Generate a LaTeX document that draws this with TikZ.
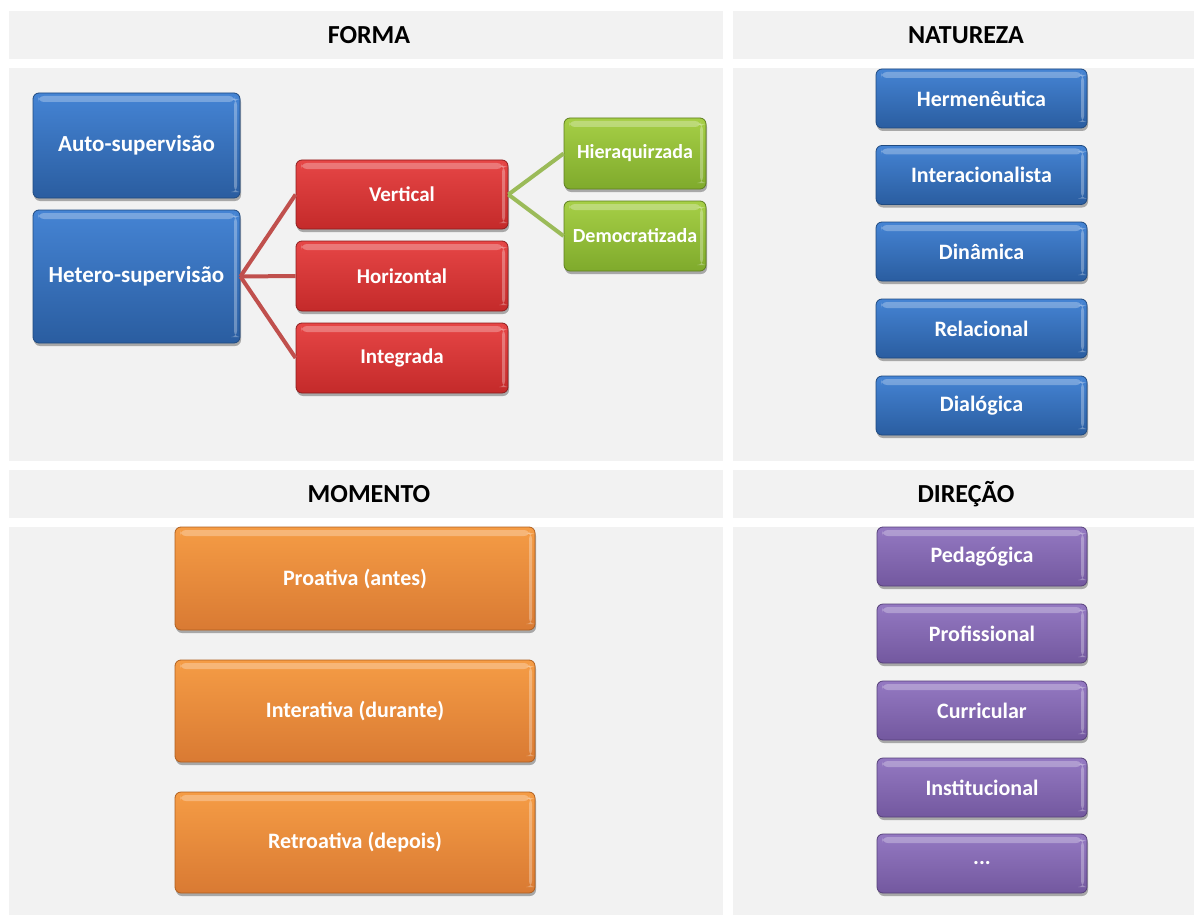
\documentclass[tikz,border=0pt]{standalone}
\usepackage{fontspec}
\setmainfont{Carlito}
\usetikzlibrary{shadows}
\definecolor{panelbg}{HTML}{F2F2F2}
\definecolor{blueT}{HTML}{4584D4}
\definecolor{blueB}{HTML}{2A5DA0}
\definecolor{blueD}{HTML}{1F4A80}
\definecolor{redT}{HTML}{E64646}
\definecolor{redB}{HTML}{C42A2A}
\definecolor{redD}{HTML}{8E1E1E}
\definecolor{greenT}{HTML}{A6CF46}
\definecolor{greenB}{HTML}{7FAA2C}
\definecolor{greenD}{HTML}{5E7E20}
\definecolor{orangeT}{HTML}{F59C45}
\definecolor{orangeB}{HTML}{D97A33}
\definecolor{orangeD}{HTML}{B06020}
\definecolor{purpleT}{HTML}{9479C2}
\definecolor{purpleB}{HTML}{73589F}
\definecolor{purpleD}{HTML}{56407A}
\definecolor{redline}{HTML}{C0504D}
\definecolor{greenline}{HTML}{9BBB59}
\tikzset{
  panel/.style={fill=panelbg, draw=none},
  headtext/.style={font=\bfseries\fontsize{26}{30}\selectfont, text=black},
  glossy/.style={rounded corners=6pt, line width=0.8pt, text=white,
    drop shadow={shadow xshift=1pt, shadow yshift=-3pt, opacity=0.3, fill=black},
    path picture={
      \fill[white, opacity=0.28] ([xshift=5pt,yshift=-3pt]path picture bounding box.north west)
        rectangle ([xshift=-5pt,yshift=-9pt]path picture bounding box.north east);
      \fill[white, opacity=0.3] ([xshift=-6pt,yshift=-6pt]path picture bounding box.north east)
        rectangle ([xshift=-3pt,yshift=6pt]path picture bounding box.south east);
    },
    inner sep=0pt},
  bluebox/.style={glossy, top color=blueT, bottom color=blueB, draw=blueD, font=\bfseries\fontsize{22}{26}\selectfont},
  bigbluebox/.style={bluebox, font=\bfseries\fontsize{23}{26}\selectfont},
  redbox/.style={glossy, top color=redT, bottom color=redB, draw=redD, font=\bfseries\fontsize{21}{24}\selectfont},
  greenbox/.style={glossy, top color=greenT, bottom color=greenB, draw=greenD, font=\bfseries\fontsize{20}{24}\selectfont},
  orangebox/.style={glossy, top color=orangeT, bottom color=orangeB, draw=orangeD, font=\bfseries\fontsize{22}{26}\selectfont},
  purplebox/.style={glossy, top color=purpleT, bottom color=purpleB, draw=purpleD, font=\bfseries\fontsize{22}{26}\selectfont},
  redconn/.style={draw=redline, line width=4pt},
  greenconn/.style={draw=greenline, line width=4pt},
}
\begin{document}
\begin{tikzpicture}[x=1pt,y=-1pt]
\useasboundingbox (0,0) rectangle (1194,915);
% panels
\fill[panel] (9,11) rectangle (723,59);
\fill[panel] (733,11) rectangle (1194,59);
\fill[panel] (9,68) rectangle (723,461);
\fill[panel] (733,68) rectangle (1194,461);
\fill[panel] (9,470) rectangle (723,518);
\fill[panel] (733,470) rectangle (1194,518);
\fill[panel] (9,527) rectangle (723,915);
\fill[panel] (733,527) rectangle (1194,915);
% headers
\node[headtext] (hforma) at (369,35) {FORMA};
\node[headtext] (hnat) at (966,35) {NATUREZA};
\node[headtext] (hmom) at (369,494) {MOMENTO};
\node[headtext] (hdir) at (966,494) {DIREÇÃO};
% FORMA
\node[bigbluebox, minimum width=207pt, minimum height=105pt] (auto) at (136.5,145.5) {Auto-supervisão};
\node[bigbluebox, minimum width=207pt, minimum height=133pt] (hetero) at (136.5,276.5) {Hetero-supervisão};
\node[redbox, minimum width=212pt, minimum height=69pt] (vert) at (402,194.5) {Vertical};
\node[redbox, minimum width=212pt, minimum height=70pt] (horiz) at (402,276) {Horizontal};
\node[redbox, minimum width=212pt, minimum height=70pt] (integ) at (402,358) {Integrada};
\node[greenbox, minimum width=142pt, minimum height=71pt] (hier) at (635,153.5) {Hieraquirzada};
\node[greenbox, minimum width=142pt, minimum height=70pt] (demo) at (635,236) {Democratizada};
\draw[redconn] (hetero.east) -- (vert.west);
\draw[redconn] (hetero.east) -- (horiz.west);
\draw[redconn] (hetero.east) -- (integ.west);
\draw[greenconn] (vert.east) -- (hier.west);
\draw[greenconn] (vert.east) -- (demo.west);
% NATUREZA
\node[bluebox, minimum width=211pt, minimum height=59pt] (herm) at (981.5,98.5) {Hermenêutica};
\node[bluebox, minimum width=211pt, minimum height=59pt] (inter) at (981.5,175) {Interacionalista};
\node[bluebox, minimum width=211pt, minimum height=59pt] (dina) at (981.5,251.5) {Dinâmica};
\node[bluebox, minimum width=211pt, minimum height=59pt] (rela) at (981.5,328.5) {Relacional};
\node[bluebox, minimum width=211pt, minimum height=59pt] (dial) at (981.5,405.5) {Dialógica};
% MOMENTO
\node[orangebox, minimum width=360pt, minimum height=103pt] (proa) at (355,578.5) {Proativa (antes)};
\node[orangebox, minimum width=360pt, minimum height=102pt] (intera) at (355,711) {Interativa (durante)};
\node[orangebox, minimum width=360pt, minimum height=101pt] (retro) at (355,842.5) {Retroativa (depois)};
% DIRECAO
\node[purplebox, minimum width=210pt, minimum height=59pt] (peda) at (982,556.5) {Pedagógica};
\node[purplebox, minimum width=210pt, minimum height=59pt] (prof) at (982,633.5) {Profissional};
\node[purplebox, minimum width=210pt, minimum height=59pt] (curr) at (982,710.5) {Curricular};
\node[purplebox, minimum width=210pt, minimum height=59pt] (inst) at (982,787.5) {Institucional};
\node[purplebox, minimum width=210pt, minimum height=59pt] (etc) at (982,863.5) {...};
\end{tikzpicture}
\end{document}
